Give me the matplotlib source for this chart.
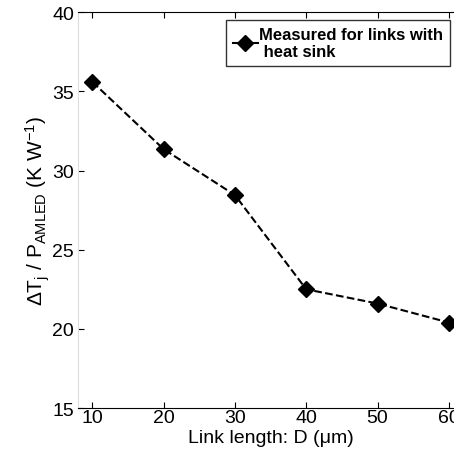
import numpy as np
from matplotlib import pyplot as plt

# Values
link_length = [10, 20, 30, 40, 50, 60]
thermal_res = [35.6, 31.35, 28.45, 22.5, 21.6, 20.4]
x_ticks = [10, 20, 30, 40, 50, 60]
y_ticks = [15, 20, 25, 30, 35, 40]

plt.rcParams['font.family'] = ['Liberation Sans', 'DejaVu Sans']
plt.rcParams['mathtext.fontset'] = 'custom'
plt.rcParams['mathtext.rm'] = 'Liberation Sans'
plt.rcParams['mathtext.it'] = 'Liberation Sans'

fig = plt.figure(figsize=(4.54, 4.56), dpi=100)
# axes run past the right edge, as in the cropped original
ax = fig.add_axes([0.172, 0.103, 0.848, 0.868])

ax.plot(link_length, thermal_res, color='black', linestyle='--', linewidth=1.5,
        marker='D', markersize=8.5, label='Measured for links with\n heat sink')

ax.set_xlim(8, 62)
ax.set_ylim(15, 40)
ax.set_xticks(x_ticks)
ax.set_yticks(y_ticks)
ax.tick_params(direction='in', length=4, labelsize=14, top=True, right=True, pad=1)
ax.tick_params(axis='y', pad=3)
ax.spines['left'].set_color('#dddddd')

ax.set_xlabel(u'Link length: D (\u03bcm)', fontsize=14, labelpad=2)
ax.set_ylabel(r'$\Delta$T$_j$ / P$_{AMLED}$ (K W$^{-1}$)', fontsize=15, labelpad=0)

leg = ax.legend(loc='upper left', bbox_to_anchor=(0.384, 0.98), borderaxespad=0,
                prop={'weight': 'bold', 'size': 12}, fancybox=False,
                handlelength=1.5, handletextpad=0.1, borderpad=0.4, labelspacing=0.2)
leg.get_frame().set_edgecolor('black')
leg.get_frame().set_linewidth(1)
for h in leg.legend_handles:
    h.set_linestyle('-')

plt.savefig('out.png', dpi=100)
